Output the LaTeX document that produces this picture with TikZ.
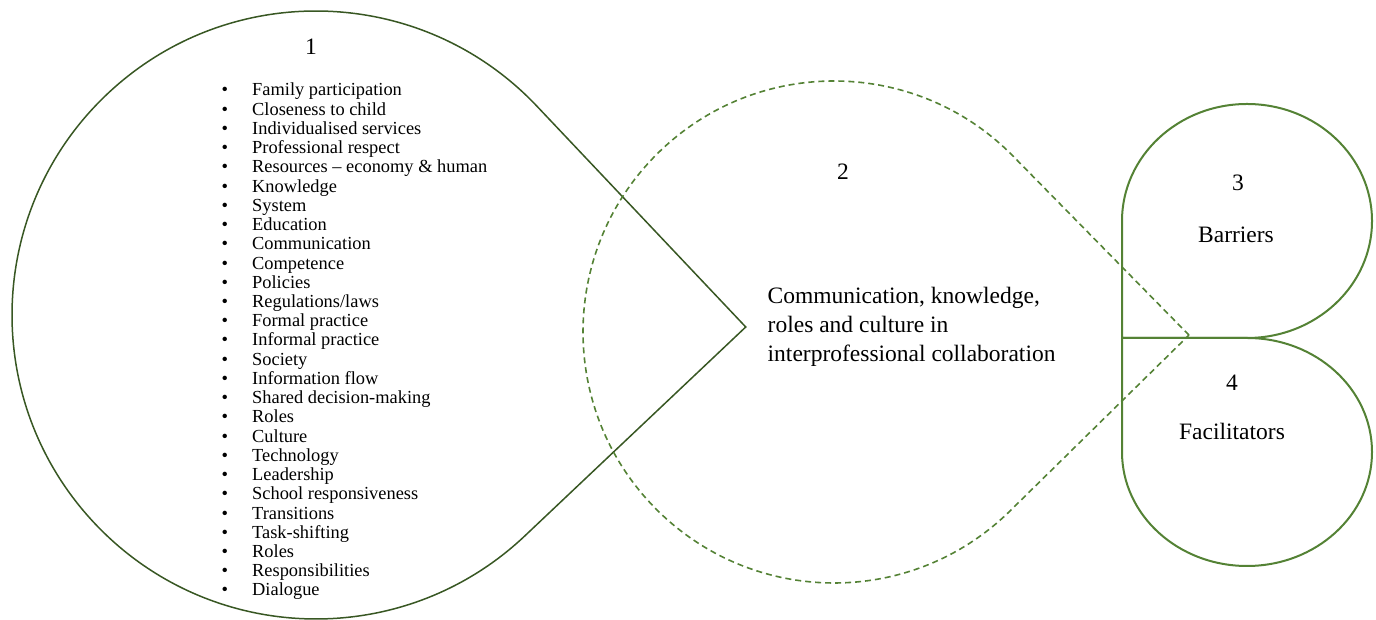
\documentclass[tikz,border=0pt]{standalone}
\usepackage{fontspec}
\setmainfont{Liberation Serif}
\usetikzlibrary{calc}
\definecolor{darkleaf}{HTML}{385723}
\definecolor{leaf}{HTML}{548235}
\tikzset{
  dropsolid/.style={draw=darkleaf, line width=1.5pt, line join=miter},
  dropdashed/.style={draw=leaf, line width=1.6pt, dash pattern=on 6pt off 4pt},
  lobe/.style={draw=leaf, line width=2pt},
  bigtext/.style={font=\fontsize{23.5}{28.7}\selectfont, inner sep=0pt},
  listtext/.style={font=\fontsize{18.4}{19.23}\selectfont, inner sep=0pt, anchor=base west},
}
\begin{document}
\begin{tikzpicture}[x=1pt,y=1pt]
\useasboundingbox (0,0) rectangle (1376,620);

% teardrop 1: circle with a pointed corner to the right
\coordinate (c1) at (316,305);
\coordinate (tip1) at ($(c1)+(-1.6:{304*1.41421})$);
\draw[dropsolid] (tip1) -- ($(c1)+(43.4:304)$)
  arc[start angle=43.4, end angle=313.4, radius=304] -- cycle;

% teardrop 2 (dashed)
\coordinate (c2) at (834,288);
\coordinate (tip2) at ($(c2)+(-0.5:{251*1.41421})$);
\draw[dropdashed] (tip2) -- ($(c2)+(44.5:251)$)
  arc[start angle=44.5, end angle=314.5, radius=251] -- cycle;

% lobe 3: square bottom-left corner
\draw[lobe] (1122,282) -- (1122,399)
  arc[start angle=180, end angle=-90, x radius=125, y radius=117] -- cycle;
% lobe 4: square top-left corner
\draw[lobe] (1122,282) -- (1247,282)
  arc[start angle=90, end angle=-180, x radius=125, y radius=114] -- cycle;

% labels
\node[bigtext, anchor=base] (n1) at (311,565) {1};
\node[bigtext, anchor=base] (n2) at (843,440) {2};
\node[bigtext, anchor=north west, align=left] (theme) at (767.5,332.7)
  {Communication, knowledge,\\roles and culture in\\interprofessional collaboration};
\node[bigtext, anchor=base] (n3) at (1238,429) {3};
\node[bigtext, anchor=base] (barriers) at (1236,377) {Barriers};
\node[bigtext, anchor=base] (n4) at (1232,229) {4};
\node[bigtext, anchor=base] (facilitators) at (1232,180) {Facilitators};

% bulleted list inside teardrop 1
\foreach \t [count=\i from 0] in {Family participation, Closeness to child,
  Individualised services, Professional respect, Resources – economy \& human,
  Knowledge, System, Education, Communication, Competence, Policies,
  Regulations/laws, Formal practice, Informal practice, Society,
  Information flow, Shared decision-making, Roles, Culture, Technology,
  Leadership, School responsiveness, Transitions, Task-shifting, Roles,
  Responsibilities, Dialogue}
  \node[listtext] (item\i) at (221.5,{524-19.23*\i}) {\makebox[30.5pt][l]{\textbullet}\t};
\end{tikzpicture}
\end{document}
